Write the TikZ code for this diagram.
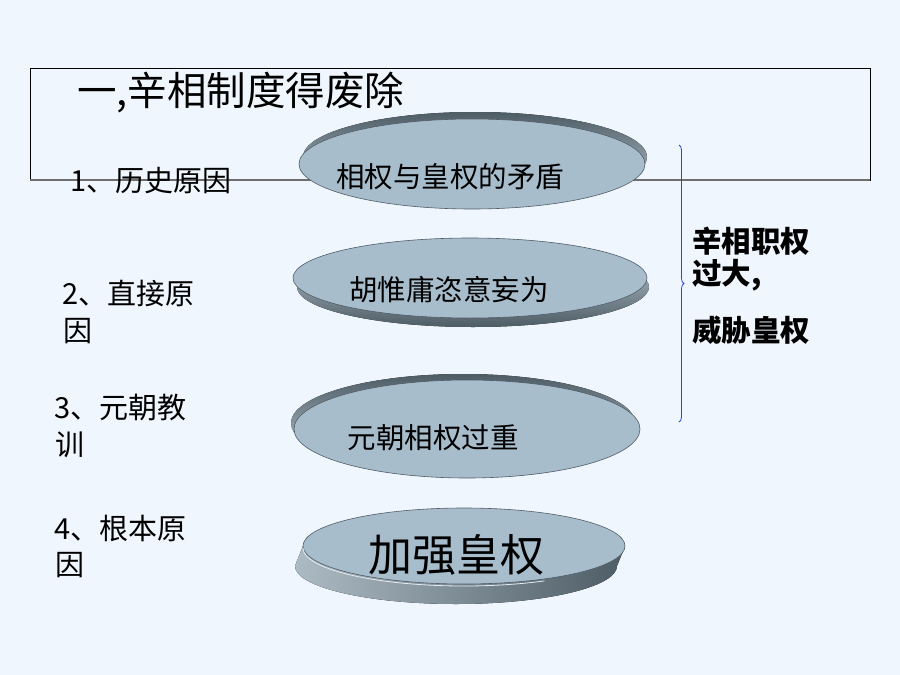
\documentclass[tikz,border=0pt]{standalone}
\usepackage{fontspec}
\setmainfont{Noto Sans CJK SC}
\usetikzlibrary{decorations.pathreplacing}
\definecolor{bg}{RGB}{239,246,253}
\definecolor{face}{RGB}{167,189,204}
\definecolor{faceedge}{RGB}{80,92,102}
\definecolor{rimdark}{RGB}{78,92,102}
\definecolor{rimlight}{RGB}{196,210,220}
\definecolor{boxline}{RGB}{110,110,110}
\definecolor{bracecol}{RGB}{40,70,220}
\begin{document}
\begin{tikzpicture}[x=1pt,y=-1pt,
  lbl/.style={anchor=west,inner sep=0pt,font=\fontsize{29pt}{32pt}\selectfont},
  disclbl/.style={inner sep=0pt,font=\fontsize{28.5pt}{32pt}\selectfont},
  sidelbl/.style={anchor=west,inner sep=0pt,font=\bfseries\fontsize{29.5pt}{32pt}\selectfont},
  facestyle/.style={fill=face,draw=faceedge,line width=0.6pt}]
\fill[bg] (0,0) rectangle (900,675);
\useasboundingbox (0,0) rectangle (900,675);
% title box
\draw[black,line width=0.8pt] (30,68) rectangle (870,180);
\draw[boxline,line width=1.6pt] (30,180) -- (870,180);
\node[anchor=west,inner sep=0pt,font=\fontsize{39.5pt}{44pt}\selectfont] (title) at (77,93) {一,辛相制度得废除};
% disc 1
\fill[top color=rimdark,bottom color=rimlight] (475,157) ellipse [x radius=172pt,y radius=45pt];
\draw[facestyle] (472,164) ellipse [x radius=173pt,y radius=45pt];
% disc 2
\fill[bottom color=rimdark,top color=rimlight] (473,287) ellipse [x radius=176pt,y radius=40pt];
\draw[facestyle] (470,278) ellipse [x radius=177pt,y radius=40pt];
% disc 3
\fill[top color=rimdark,bottom color=rimlight] (463,423) ellipse [x radius=172pt,y radius=49pt];
\draw[facestyle] (467,429) ellipse [x radius=173pt,y radius=49pt];
% disc 4 (thick)
\fill[left color=rimlight!80!rimdark,right color=rimdark] (303,546) -- (295,566)
   arc[start angle=180,end angle=360,x radius=161pt,y radius=38pt] -- (625,546) -- cycle;
\draw[facestyle] (464,546) ellipse [x radius=161pt,y radius=38pt];
\draw[white!70!face,line width=0.8pt] (303,548) arc[start angle=180,end angle=300,x radius=161pt,y radius=38pt];
% disc labels
\node[disclbl] (d1) at (450,177) {相权与皇权的矛盾};
\node[disclbl] (d2) at (449,290) {胡惟庸恣意妄为};
\node[disclbl] (d3) at (433,438) {元朝相权过重};
\node[inner sep=0pt,font=\fontsize{44pt}{48pt}\selectfont] (d4) at (456,555) {加强皇权};
% left labels
\node[lbl] (l1) at (70,181) {1、历史原因};
\node[lbl] (l2a) at (62,293) {2、直接原};
\node[lbl] (l2b) at (63,331) {因};
\node[lbl] (l3a) at (54,408) {3、元朝教};
\node[lbl] (l3b) at (55,445) {训};
\node[lbl] (l4a) at (54,528) {4、根本原};
\node[lbl] (l4b) at (55,565) {因};
% brace
\coordinate (bt) at (679,145);
\coordinate (bb) at (679,422);
\draw[bracecol,line width=0.8pt,decorate,decoration={brace,amplitude=5pt}] (bt) -- (bb);
% side text
\node[sidelbl] (s1) at (692,241) {辛相职权};
\node[sidelbl] (s2) at (692,275) {过大,};
\node[sidelbl] (s3) at (692,330) {威胁皇权};
\end{tikzpicture}
\end{document}
